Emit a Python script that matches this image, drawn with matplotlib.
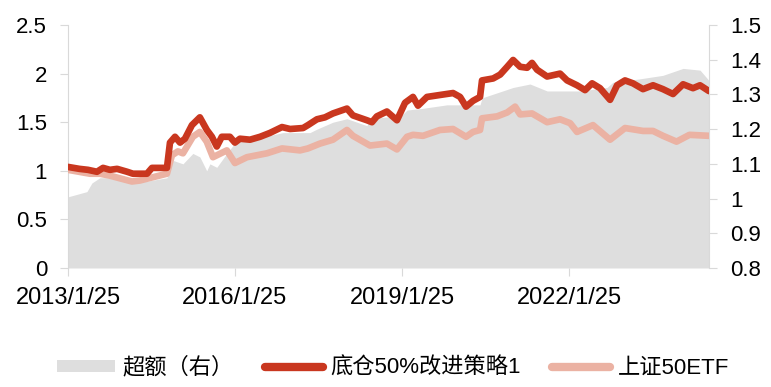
import matplotlib
matplotlib.use("Agg")
import matplotlib.pyplot as plt
import pandas as pd
from matplotlib.patches import Patch
from matplotlib.lines import Line2D

plt.rcParams['font.family'] = ['Liberation Sans', 'Noto Sans CJK SC', 'DejaVu Sans']

# ---------------- data ----------------
strategy_dates = ["2013-01-25", "2013-04-10", "2013-06-05", "2013-08-03", "2013-09-12", "2013-10-27",
                  "2013-12-13", "2014-02-17", "2014-03-27", "2014-05-11", "2014-06-27", "2014-07-30",
                  "2014-11-05", "2014-11-25", "2014-12-28", "2015-01-30", "2015-03-03", "2015-04-18",
                  "2015-06-09", "2015-07-25", "2015-08-27", "2015-09-28", "2015-10-31", "2015-12-23",
                  "2016-01-25", "2016-02-27", "2016-05-03", "2016-07-08", "2016-09-11", "2016-11-29",
                  "2017-01-21", "2017-04-16", "2017-05-18", "2017-07-16", "2017-09-07", "2017-10-29",
                  "2018-01-29", "2018-03-09", "2018-06-09", "2018-07-12", "2018-08-13", "2018-10-18",
                  "2018-12-23", "2019-02-14", "2019-04-07", "2019-05-10", "2019-07-08", "2019-10-01",
                  "2019-12-26", "2020-02-10", "2020-03-20", "2020-05-05", "2020-06-20", "2020-07-03",
                  "2020-09-14", "2020-10-30", "2020-12-15", "2021-01-23", "2021-03-10", "2021-04-25",
                  "2021-05-27", "2021-06-29", "2021-09-03", "2021-11-27", "2022-01-12", "2022-03-18",
                  "2022-05-10", "2022-06-25", "2022-08-16", "2022-10-21", "2022-12-06", "2023-01-27",
                  "2023-03-20", "2023-05-25", "2023-07-30", "2023-10-03", "2023-12-08", "2024-02-12",
                  "2024-04-17", "2024-06-02", "2024-07-31"]
strategy_values = [1.04, 1.02, 1.01, 0.99, 1.03, 1.01,
                   1.02, 0.99, 0.97, 0.97, 0.97, 1.03,
                   1.03, 1.29, 1.35, 1.29, 1.33, 1.47,
                   1.55, 1.42, 1.35, 1.25, 1.35, 1.35,
                   1.29, 1.33, 1.32, 1.35, 1.39, 1.45,
                   1.43, 1.44, 1.47, 1.53, 1.55, 1.59,
                   1.64, 1.57, 1.52, 1.50, 1.56, 1.61,
                   1.52, 1.70, 1.76, 1.67, 1.76, 1.78,
                   1.80, 1.76, 1.66, 1.72, 1.76, 1.93,
                   1.95, 1.99, 2.07, 2.14, 2.07, 2.06,
                   2.11, 2.04, 1.97, 2.00, 1.93, 1.88,
                   1.83, 1.90, 1.85, 1.73, 1.88, 1.93,
                   1.90, 1.84, 1.88, 1.84, 1.79, 1.89,
                   1.85, 1.88, 1.82]

etf_dates = ["2013-01-25", "2013-06-18", "2013-08-22", "2013-10-27", "2014-03-20", "2014-05-11",
             "2014-11-05", "2014-12-08", "2015-01-16", "2015-02-18", "2015-04-24", "2015-06-09",
             "2015-07-24", "2015-09-03", "2015-12-03", "2016-01-25", "2016-04-13", "2016-08-22",
             "2016-11-29", "2017-03-27", "2017-05-18", "2017-08-05", "2017-10-29", "2018-01-29",
             "2018-03-09", "2018-06-29", "2018-10-18", "2018-12-23", "2019-02-27", "2019-04-07",
             "2019-06-12", "2019-10-01", "2019-12-26", "2020-03-20", "2020-05-05", "2020-06-20",
             "2020-07-03", "2020-10-10", "2020-12-15", "2021-02-05", "2021-03-10", "2021-05-27",
             "2021-09-03", "2021-11-27", "2022-02-01", "2022-03-18", "2022-07-01", "2022-10-21",
             "2023-01-27", "2023-05-25", "2023-07-30", "2023-10-03", "2023-12-31", "2024-03-25",
             "2024-07-31"]
etf_values = [1.01, 0.97, 0.97, 0.95, 0.89, 0.90,
              0.97, 1.16, 1.20, 1.18, 1.35, 1.40,
              1.30, 1.14, 1.21, 1.08, 1.14, 1.18,
              1.23, 1.21, 1.23, 1.28, 1.32, 1.42,
              1.36, 1.26, 1.28, 1.22, 1.35, 1.37,
              1.36, 1.42, 1.43, 1.35, 1.40, 1.42,
              1.54, 1.56, 1.60, 1.66, 1.58, 1.59,
              1.50, 1.53, 1.49, 1.40, 1.47, 1.32,
              1.44, 1.41, 1.41, 1.36, 1.30, 1.37,
              1.36]

excess_dates = ["2013-01-25", "2013-05-29", "2013-07-01", "2013-08-22", "2014-02-17", "2014-06-27",
                "2014-11-05", "2014-12-15", "2015-02-18", "2015-04-24", "2015-06-09", "2015-07-24",
                "2015-08-14", "2015-09-28", "2015-12-03", "2016-01-25", "2016-05-03", "2016-08-22",
                "2016-12-06", "2017-03-27", "2017-05-31", "2017-07-16", "2017-10-29", "2018-01-29",
                "2018-06-09", "2018-06-29", "2018-10-18", "2019-01-12", "2019-02-27", "2019-06-12",
                "2019-11-16", "2020-06-20", "2020-07-03", "2021-01-23", "2021-05-14", "2021-09-03",
                "2022-01-12", "2022-04-06", "2022-10-01", "2022-11-09", "2023-05-06", "2023-10-03",
                "2024-02-12", "2024-06-02", "2024-07-31"]
excess_values = [1.005, 1.02, 1.045, 1.06, 1.06, 1.05,
                 1.06, 1.11, 1.10, 1.13, 1.12, 1.08,
                 1.10, 1.09, 1.13, 1.16, 1.175, 1.18,
                 1.19, 1.19, 1.19, 1.20, 1.22, 1.23,
                 1.21, 1.23, 1.235, 1.235, 1.255, 1.26,
                 1.27, 1.27, 1.29, 1.32, 1.33, 1.31,
                 1.31, 1.31, 1.32, 1.335, 1.345, 1.355,
                 1.375, 1.37, 1.34]

series_names = ["超额（右）", "底仓50%改进策略1", "上证50ETF"]
left_ticks = [0, 0.5, 1, 1.5, 2, 2.5]
left_tick_labels = ["0", "0.5", "1", "1.5", "2", "2.5"]
right_ticks = [0.8, 0.9, 1.0, 1.1, 1.2, 1.3, 1.4, 1.5]
right_tick_labels = ["0.8", "0.9", "1", "1.1", "1.2", "1.3", "1.4", "1.5"]
x_tick_dates = ["2013-01-25", "2016-01-25", "2019-01-25", "2022-01-25"]
x_tick_labels = ["2013/1/25", "2016/1/25", "2019/1/25", "2022/1/25"]

# ---------------- style ----------------
GREY = "#dedede"
RED = "#c9371f"
PINK = "#ebb2a3"
SPINE = "#d9d9d9"
FS = 16

fig = plt.figure(figsize=(7.71, 3.87), dpi=100)
ax = fig.add_axes([68 / 771, 1 - 268 / 387, (709 - 68) / 771, (268 - 25) / 387])
axr = ax.twinx()

sd = pd.to_datetime(strategy_dates)
ed = pd.to_datetime(etf_dates)
xd = pd.to_datetime(excess_dates)

axr.fill_between(xd, 0.8, excess_values, color=GREY, linewidth=0)
ax.plot(ed, etf_values, color=PINK, lw=4.8, solid_joinstyle='round', solid_capstyle='round', zorder=3)
ax.plot(sd, strategy_values, color=RED, lw=4.8, solid_joinstyle='round', solid_capstyle='round', zorder=4)

ax.set_zorder(axr.get_zorder() + 1)
ax.patch.set_visible(False)

ax.set_xlim(pd.Timestamp("2013-01-25"), pd.Timestamp("2024-07-31"))
ax.set_ylim(0, 2.5)
axr.set_ylim(0.8, 1.5)

ax.set_yticks(left_ticks)
ax.set_yticklabels(left_tick_labels)
axr.set_yticks(right_ticks)
axr.set_yticklabels(right_tick_labels)
ax.set_xticks(pd.to_datetime(x_tick_dates))
ax.set_xticklabels(x_tick_labels)

for a in (ax, axr):
    for s in a.spines.values():
        s.set_visible(False)
    a.tick_params(axis='both', colors=SPINE, labelcolor='black', labelsize=FS, length=6, width=0.8)
ax.spines['left'].set_visible(True)
ax.spines['left'].set_color(SPINE)
axr.spines['right'].set_visible(True)
axr.spines['right'].set_color(SPINE)
ax.tick_params(axis='y', pad=9)
axr.tick_params(axis='y', pad=9)
ax.tick_params(axis='x', pad=8, labelsize=17)

handles = [Patch(facecolor=GREY, edgecolor='none'),
           Line2D([0], [0], color=RED, lw=6, solid_capstyle='round'),
           Line2D([0], [0], color=PINK, lw=6, solid_capstyle='round')]
fig.legend(handles, series_names, loc='center', bbox_to_anchor=(393 / 771, 1 - 368 / 387),
           ncol=3, frameon=False, fontsize=FS, handlelength=2.6, handleheight=0.5,
           handletextpad=0.35, columnspacing=1.4, borderaxespad=0)

fig.savefig("out.png", dpi=100)
